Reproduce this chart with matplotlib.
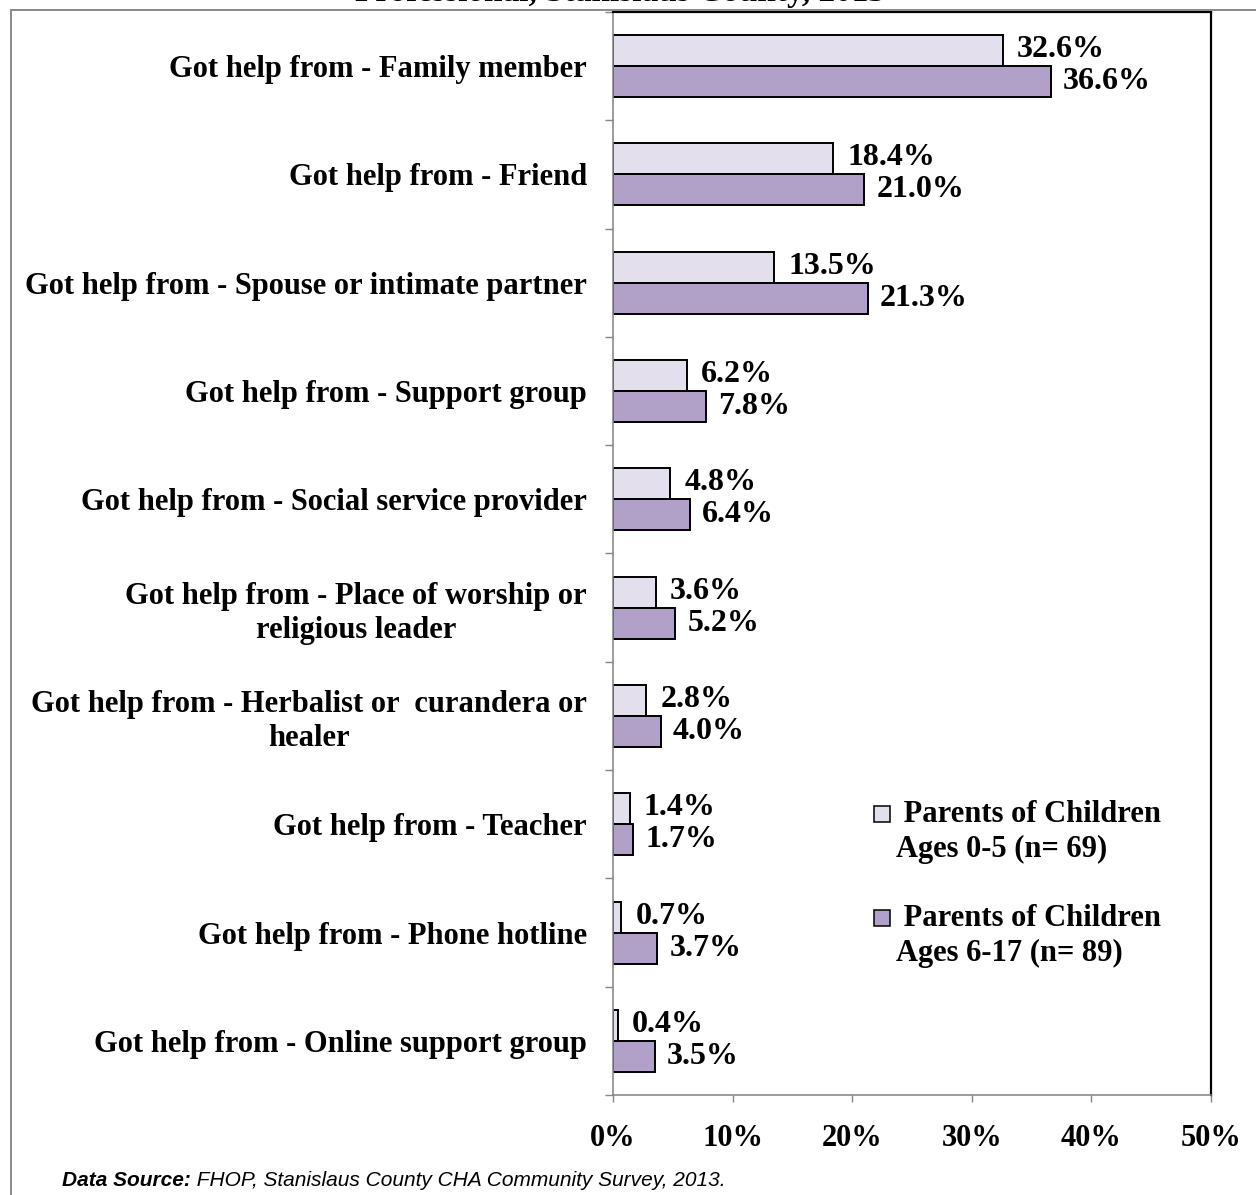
import matplotlib
matplotlib.use("Agg")
import matplotlib.pyplot as plt
import numpy as np
from matplotlib.lines import Line2D
from matplotlib.patches import Rectangle

# ---- data -------------------------------------------------------------
categories = [
    "Got help from - Family member",
    "Got help from - Friend",
    "Got help from - Spouse or intimate partner",
    "Got help from - Support group",
    "Got help from - Social service provider",
    "Got help from - Place of worship or\nreligious leader",
    "Got help from - Herbalist or  curandera or\nhealer",
    "Got help from - Teacher",
    "Got help from - Phone hotline",
    "Got help from - Online support group",
]
ages_0_5 = [32.6, 18.4, 13.5, 6.2, 4.8, 3.6, 2.8, 1.4, 0.7, 0.4]
ages_6_17 = [36.6, 21.0, 21.3, 7.8, 6.4, 5.2, 4.0, 1.7, 3.7, 3.5]
series_labels = [" Parents of Children\nAges 0-5 (n= 69)",
                 " Parents of Children\nAges 6-17 (n= 89)"]
x_ticks = [0, 10, 20, 30, 40, 50]
x_tick_labels = ["0%", "10%", "20%", "30%", "40%", "50%"]
title = "Professional, Stanislaus County, 2013"

# ---- style ------------------------------------------------------------
plt.rcParams["font.family"] = ["Liberation Serif", "DejaVu Serif"]
plt.rcParams["font.weight"] = "bold"
FS = 22
LIGHT = "#E4DFEC"
DARK = "#B1A0C7"
GREY = "#868686"

W, H = 1256, 1195
DPI = 100
PX = 72.0 / DPI  # points per pixel

fig = plt.figure(figsize=(W / DPI, H / DPI), dpi=DPI)
fig.patch.set_facecolor("white")

left, right, top, bottom = 613, 1211, 12, 1095
ax = fig.add_axes([left / W, 1 - bottom / H, (right - left) / W, (bottom - top) / H])

y = np.arange(len(categories))
h = 0.286
ax.barh(y - h / 2, ages_0_5, height=h, color=LIGHT, edgecolor="black", linewidth=1.4)
ax.barh(y + h / 2, ages_6_17, height=h, color=DARK, edgecolor="black", linewidth=1.4)

for yy, v in zip(y - h / 2, ages_0_5):
    ax.annotate(f"{v:.1f}%", xy=(v, yy), xytext=(14 * PX, 1 * PX),
                textcoords="offset points", ha="left", va="center",
                fontsize=FS + 1, fontweight="bold")
for yy, v in zip(y + h / 2, ages_6_17):
    ax.annotate(f"{v:.1f}%", xy=(v, yy), xytext=(12 * PX, 0),
                textcoords="offset points", ha="left", va="center",
                fontsize=FS + 1, fontweight="bold")

ax.set_xlim(0, 50)
ax.set_ylim(len(categories) - 0.5, -0.5)

ax.set_yticks(y)
ax.set_yticklabels(categories, fontsize=FS, fontweight="bold",
                   multialignment="center", linespacing=1.22)
ax.set_yticks(np.arange(-0.5, len(categories), 1.0), minor=True)
ax.tick_params(axis="y", which="major", length=0, pad=26 * PX)
ax.tick_params(axis="y", which="minor", length=8 * PX, color=GREY,
               width=1.4 * PX, direction="out")

ax.set_xticks(x_ticks)
ax.set_xticklabels(x_tick_labels, fontsize=FS, fontweight="bold")
ax.tick_params(axis="x", length=7 * PX, color=GREY, width=1.4 * PX,
               direction="out", pad=22 * PX)

for s in ("left", "bottom"):
    ax.spines[s].set_color(GREY)
    ax.spines[s].set_linewidth(1.6 * PX)
for s in ("top", "right"):
    ax.spines[s].set_color("black")
    ax.spines[s].set_linewidth(2.2 * PX)


def ax_xy(px, py):
    return (px - left) / (right - left), (bottom - py) / (bottom - top)


# legend, drawn as squares with two-line labels
legend_rows = [(806, LIGHT), (910, DARK)]
for (sq_top, col), lab in zip(legend_rows, series_labels):
    x0, y0 = ax_xy(874, sq_top + 16)
    x1, y1 = ax_xy(890, sq_top)
    ax.add_patch(Rectangle((x0, y0), x1 - x0, y1 - y0, transform=ax.transAxes,
                           facecolor=col, edgecolor="black", linewidth=1.1,
                           clip_on=False))
    tx, ty = ax_xy(896, sq_top - 6)
    ax.text(tx, ty, lab, transform=ax.transAxes, ha="left", va="top",
            fontsize=FS, fontweight="bold", linespacing=1.28)

# title (runs past the top edge of the page)
fig.text(620 / W, 1 - 1 / H, title, ha="center", va="baseline",
         fontsize=24, fontweight="bold")

# page frame
fig.add_artist(Line2D([11 / W, 11 / W, 1.0], [0.0, 1 - 10 / H, 1 - 10 / H],
                      transform=fig.transFigure, color="#8c8c8c",
                      linewidth=2 * PX, solid_joinstyle="miter"))

# source note
foot_family = ["Liberation Sans", "DejaVu Sans"]
t1 = fig.text(62 / W, 1 - 1180 / H, "Data Source:", ha="left", va="center",
              fontsize=15, fontstyle="italic", fontweight="bold",
              family=foot_family)
ax.annotate(" FHOP, Stanislaus County CHA Community Survey, 2013.",
            xy=(1, 0.5), xycoords=t1, ha="left", va="center",
            fontsize=15, fontstyle="italic", fontweight="normal",
            family=foot_family, annotation_clip=False)

fig.savefig("out.png", dpi=DPI)
